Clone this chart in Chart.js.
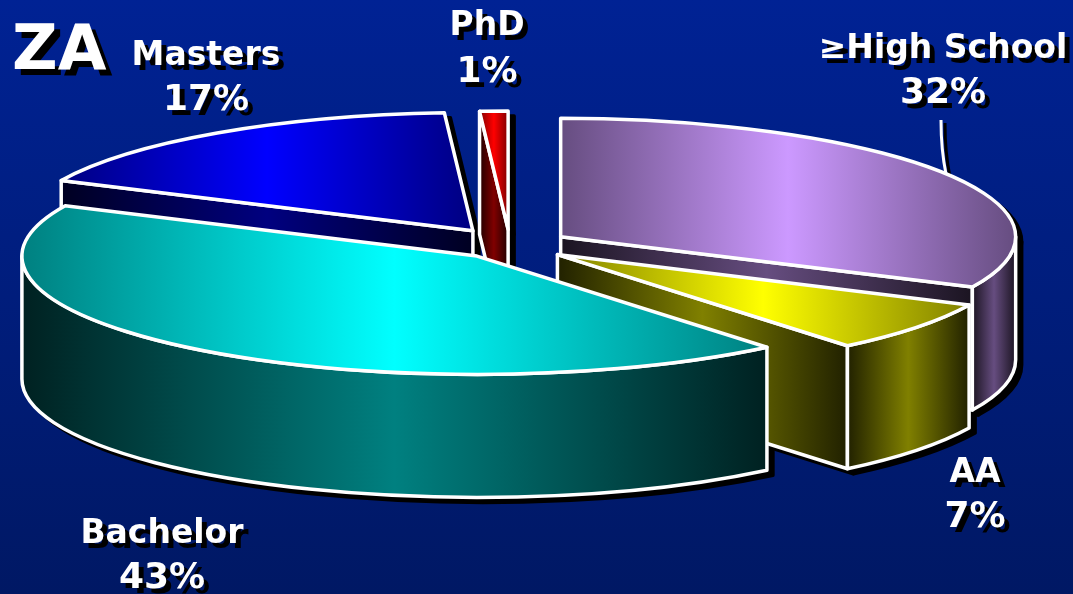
<!DOCTYPE html>
<html>
<head>
<meta charset="utf-8">
<title>ZA</title>
<script src="https://cdn.jsdelivr.net/npm/chart.js@4"></script>
<style>
    html, body { margin: 0; padding: 0; }
    body { width: 1073px; height: 594px; overflow: hidden; background: linear-gradient(#002294, #001864); }
    #wrap { position: relative; width: 1073px; height: 594px; }
</style>
</head>
<body>
<div id="wrap"><canvas id="pie" width="1073" height="594"></canvas></div>
<script>
const chartTitle = 'ZA';
const categories = ['\u2265High School', 'AA', 'Bachelor', 'Masters', 'PhD'];
const shares = [32, 7, 43, 17, 1];
const sliceColors = [[204, 153, 255], [255, 255, 0], [0, 255, 255], [0, 0, 255], [255, 0, 0]];
const sliceOffsets = [60, 60, 54, 66, 60];

// back to front, the slices overlap each other in this order
const paintOrder = [4, 3, 0, 1, 2];
const labelSpots = [[943, 58, 103], [975, 482, 527], [162, 543, 588], [206, 65, 110], [487, 35, 82]];

const TILT = 0.26;
const DEPTH = 123;
const NAME_FONT = 'bold 33px "DejaVu Sans"';
const SHARE_FONT = 'bold 36px "DejaVu Sans"';

function rgb(c, k) {
    return 'rgb(' + c.map(v => Math.round(v * k)).join(',') + ')';
}

function shade(ctx, x0, x1, color, edge, mid) {
    const g = ctx.createLinearGradient(x0, 0, x1, 0);
    g.addColorStop(0, rgb(color, edge));
    g.addColorStop(0.5, rgb(color, mid));
    g.addColorStop(1, rgb(color, edge));
    return g;
}

// works out the flattened outline of one arc from the element chart.js laid out
function sliceShape(arc) {
    const {x, y, startAngle, endAngle, outerRadius} = arc.getProps(['x', 'y', 'startAngle', 'endAngle', 'outerRadius'], true);
    const mid = (startAngle + endAngle) / 2;
    const off = arc.options.offset;
    const cx = x + Math.cos(mid) * off;
    const cy = y + Math.sin(mid) * off * TILT;
    const at = a => [cx + Math.cos(a) * outerRadius, cy + Math.sin(a) * outerRadius * TILT];
    return {cx, cy, r: outerRadius, a0: startAngle, a1: endAngle, at};
}

function topPath(ctx, s) {
    ctx.beginPath();
    ctx.moveTo(s.cx, s.cy);
    ctx.ellipse(s.cx, s.cy, s.r, s.r * TILT, 0, s.a0, s.a1);
    ctx.closePath();
}

function edgePath(ctx, s, a) {
    const p = s.at(a);
    ctx.beginPath();
    ctx.moveTo(s.cx, s.cy);
    ctx.lineTo(p[0], p[1]);
    ctx.lineTo(p[0], p[1] + DEPTH);
    ctx.lineTo(s.cx, s.cy + DEPTH);
    ctx.closePath();
}

// the visible part of the rim is the front half of the ellipse
function rimRange(s) {
    const lo = Math.max(s.a0, 0);
    const hi = Math.min(s.a1, Math.PI);
    return lo < hi ? [lo, hi] : null;
}

function rimPath(ctx, s, lo, hi) {
    ctx.beginPath();
    ctx.ellipse(s.cx, s.cy, s.r, s.r * TILT, 0, lo, hi);
    ctx.ellipse(s.cx, s.cy + DEPTH, s.r, s.r * TILT, 0, hi, lo, true);
    ctx.closePath();
}

function sliceFaces(s) {
    const faces = [];
    if (-Math.cos(s.a0) > 0.001) faces.push({type: 'edge', a: s.a0});
    if (Math.cos(s.a1) > 0.001) faces.push({type: 'edge', a: s.a1});
    const rim = rimRange(s);
    if (rim) faces.push({type: 'rim', lo: rim[0], hi: rim[1]});
    return faces;
}

function facePath(ctx, s, f) {
    if (f.type === 'edge') edgePath(ctx, s, f.a);
    else rimPath(ctx, s, f.lo, f.hi);
}

function faceSpan(s, f) {
    if (f.type === 'edge') {
        const x = s.at(f.a)[0];
        return [Math.min(s.cx, x), Math.max(s.cx, x)];
    }
    const a = s.at(f.lo)[0], b = s.at(f.hi)[0];
    return [Math.min(a, b), Math.max(a, b)];
}

function topSpan(s) {
    const xs = [s.cx, s.at(s.a0)[0], s.at(s.a1)[0]];
    if (s.a0 <= 0 && s.a1 >= 0) xs.push(s.cx + s.r);
    if (s.a0 <= Math.PI && s.a1 >= Math.PI) xs.push(s.cx - s.r);
    return [Math.min(...xs), Math.max(...xs)];
}

const pie3d = {
    id: 'pie3d',
    beforeDatasetsDraw(chart) {
        const ctx = chart.ctx;
        const arcs = chart.getDatasetMeta(0).data;
        const shapes = arcs.map(sliceShape);

        ctx.save();
        ctx.lineJoin = 'round';
        ctx.lineWidth = 3;

        // leader line of the first label, under the pie
        ctx.save();
        ctx.strokeStyle = '#fff';
        ctx.shadowColor = '#000';
        ctx.shadowOffsetX = 4;
        ctx.shadowOffsetY = 3;
        ctx.beginPath();
        ctx.moveTo(941, 120);
        ctx.quadraticCurveTo(941, 150, 946, 174);
        ctx.stroke();
        ctx.restore();

        ctx.strokeStyle = arcs[0].options.borderColor;
        ctx.lineWidth = arcs[0].options.borderWidth;

        // hard drop shadow behind the whole pie
        ctx.save();
        ctx.translate(6, 5);
        ctx.fillStyle = '#000';
        ctx.strokeStyle = '#000';
        for (const i of paintOrder) {
            const s = shapes[i];
            for (const f of sliceFaces(s)) {
                facePath(ctx, s, f);
                ctx.fill();
                ctx.stroke();
            }
            topPath(ctx, s);
            ctx.fill();
            ctx.stroke();
        }
        ctx.restore();

        for (const i of paintOrder) {
            const s = shapes[i];
            const color = sliceColors[i];
            for (const f of sliceFaces(s)) {
                const span = faceSpan(s, f);
                facePath(ctx, s, f);
                ctx.fillStyle = shade(ctx, span[0], span[1], color, 0.13, 0.5);
                ctx.fill();
                ctx.stroke();
            }
            const span = topSpan(s);
            topPath(ctx, s);
            ctx.fillStyle = shade(ctx, span[0], span[1], color, 0.5, 1);
            ctx.fill();
            ctx.stroke();
        }
        ctx.restore();
        return false;
    },
    afterDraw(chart) {
        const ctx = chart.ctx;
        ctx.save();
        ctx.fillStyle = '#fff';
        ctx.textAlign = 'center';
        ctx.shadowColor = '#000';
        ctx.shadowBlur = 0;
        ctx.shadowOffsetX = 5;
        ctx.shadowOffsetY = 5;
        categories.forEach((name, i) => {
            const [x, y1, y2] = labelSpots[i];
            ctx.font = NAME_FONT;
            ctx.fillText(name, x, y1);
            ctx.font = SHARE_FONT;
            ctx.fillText(shares[i] + '%', x, y2);
        });
        ctx.textAlign = 'left';
        ctx.shadowOffsetX = 6;
        ctx.shadowOffsetY = 6;
        ctx.font = 'bold 63px "DejaVu Sans"';
        ctx.fillText(chartTitle, 12, 69);
        ctx.restore();
    }
};

new Chart(document.getElementById('pie').getContext('2d'), {
    type: 'pie',
    data: {
        labels: categories,
        datasets: [{
            data: shares,
            backgroundColor: sliceColors.map(c => rgb(c, 1)),
            offset: sliceOffsets,
            borderColor: '#ffffff',
            borderWidth: 3.5
        }]
    },
    options: {
        responsive: false,
        animation: false,
        events: [],
        radius: 455,
        layout: {
            padding: {right: 53, bottom: 104}
        },
        plugins: {
            legend: {display: false},
            tooltip: {enabled: false}
        }
    },
    plugins: [pie3d]
});
</script>
</body>
</html>
